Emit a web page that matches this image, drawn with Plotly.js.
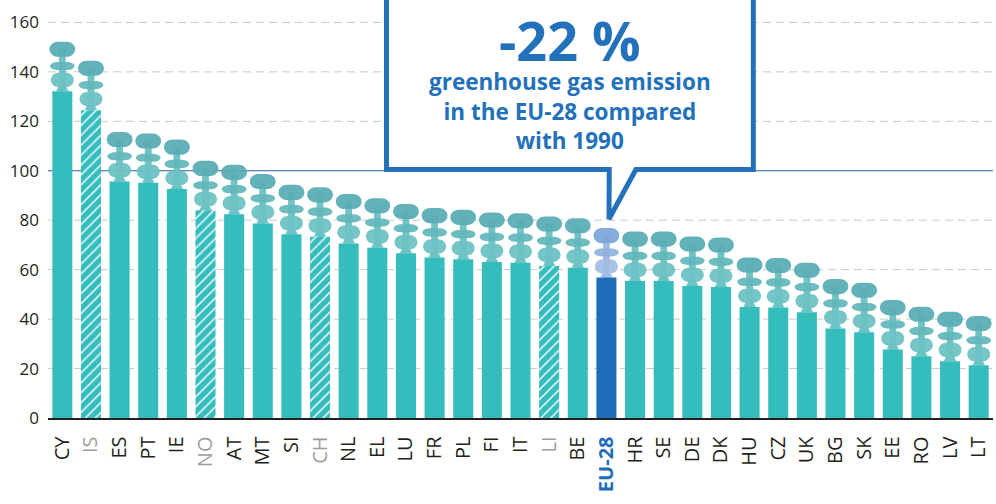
<!DOCTYPE html>
<html>
<head>
<meta charset="utf-8">
<script src="https://cdn.plot.ly/plotly-3.0.1.min.js"></script>
<style>html,body{margin:0;padding:0;background:#fff;}#chart{width:996px;height:504px;}</style>
</head>
<body>
<div id="chart"></div>
<script>
// Greenhouse gas emissions index (1990 = 100), value = top of the smoke
const categories = ['CY','IS','ES','PT','IE','NO','AT','MT','SI','CH','NL','EL','LU','FR','PL','FI','IT','LI','BE','EU-28','HR','SE','DE','DK','HU','CZ','UK','BG','SK','EE','RO','LV','LT'];
const values = [152.2,144.5,115.7,115.1,112.6,104.0,102.4,98.7,94.3,93.3,90.6,88.9,86.6,84.9,84.2,83.1,82.8,81.5,80.8,76.8,75.4,75.4,73.4,73.0,64.9,64.7,62.8,56.2,54.7,47.7,45.0,43.0,41.3];
const nonEU = ['IS','NO','CH','LI'];
const aggregate = 'EU-28';
const yTicks = [0,20,40,60,80,100,120,140,160];
const calloutBig = '-22 %';
const calloutLines = ['greenhouse gas emission','in the EU-28 compared','with 1990'];

const TEAL = '#35bdbd', BLUE = '#1f6db8';
const SMOKE = 20; // height of the smoke plume in index units (drawing style)
const idx = categories.map((c,i)=>i);
const barTops = values.map(v => v - SMOKE);

const ticktext = categories.map(c => {
  if (c === aggregate) return '<b><span style="color:' + BLUE + '">' + c + '</span></b>';
  if (nonEU.includes(c)) return '<span style="color:#9d9d9d">' + c + '</span>';
  return c;
});

const solidIdx = idx.filter(i => !nonEU.includes(categories[i]));
const hatchIdx = idx.filter(i => nonEU.includes(categories[i]));

const solidBars = {
  type: 'bar', x: solidIdx, y: solidIdx.map(i => barTops[i]), width: 0.7,
  marker: {color: solidIdx.map(i => categories[i] === aggregate ? BLUE : TEAL), line: {width: 0}},
  hoverinfo: 'skip'
};
const hatchBars = {
  type: 'bar', x: hatchIdx, y: hatchIdx.map(i => barTops[i]), width: 0.7,
  marker: {
    color: TEAL, line: {width: 0},
    pattern: {shape: '/', fillmode: 'replace', bgcolor: TEAL, fgcolor: '#ffffff', fgopacity: 1, size: 7, solidity: 0.2}
  },
  hoverinfo: 'skip'
};

function f(n){ return n.toFixed(4); }
function pill(cx, w, y0, y1) {
  const x0 = cx - w/2, x1 = cx + w/2;
  const rx = w*0.33, ry = (y1-y0)/2, k = 0.5523;
  return 'M' + f(x0+rx) + ',' + f(y0) +
    ' L' + f(x1-rx) + ',' + f(y0) +
    ' C' + f(x1-rx+k*rx) + ',' + f(y0) + ' ' + f(x1) + ',' + f(y0+ry-k*ry) + ' ' + f(x1) + ',' + f(y0+ry) +
    ' C' + f(x1) + ',' + f(y0+ry+k*ry) + ' ' + f(x1-rx+k*rx) + ',' + f(y1) + ' ' + f(x1-rx) + ',' + f(y1) +
    ' L' + f(x0+rx) + ',' + f(y1) +
    ' C' + f(x0+rx-k*rx) + ',' + f(y1) + ' ' + f(x0) + ',' + f(y1-ry+k*ry) + ' ' + f(x0) + ',' + f(y1-ry) +
    ' C' + f(x0) + ',' + f(y1-ry-k*ry) + ' ' + f(x0+rx-k*rx) + ',' + f(y0) + ' ' + f(x0+rx) + ',' + f(y0) + ' Z';
}

const shapes = [];
// dashed grid lines (all except the 100 reference, which is solid blue)
yTicks.filter(t => t > 0 && t !== 100).forEach(t => {
  shapes.push({type:'line', xref:'paper', x0:0, x1:1, yref:'y', y0:t, y1:t, layer:'below',
    line:{color:'#c9c9c9', width:1, dash:'8px,5px'}});
});
shapes.push({type:'line', xref:'paper', x0:0, x1:1, yref:'y', y0:100, y1:100, layer:'below',
  line:{color:'#2a5ea8', width:1}});

categories.forEach((c,i) => {
  const v = values[i], b = barTops[i];
  const eu = c === aggregate;
  const col = eu ? {top:'#7ba7d9', mid:'#8fb1de', bot:'#a2bde4', neck:'#9ab7e1'}
                 : {top:'#58acb4', mid:'#62b7bb', bot:'#6cc2c4', neck:'#68bdc0'};
  const base = {type:'path', xref:'x', yref:'y', layer:'below', line:{width:0}, opacity:0.93};
  shapes.push(Object.assign({}, base, {fillcolor: col.neck,
    path: 'M' + f(i-0.12) + ',' + f(b) + ' L' + f(i+0.12) + ',' + f(b) + ' L' + f(i+0.12) + ',' + f(v-3) + ' L' + f(i-0.12) + ',' + f(v-3) + ' Z'}));
  shapes.push(Object.assign({}, base, {fillcolor: col.bot,
    path: 'M' + f(i-0.22) + ',' + f(b) + ' L' + f(i+0.22) + ',' + f(b) + ' L' + f(i+0.12) + ',' + f(b+2.2) + ' L' + f(i-0.12) + ',' + f(b+2.2) + ' Z'}));
  shapes.push(Object.assign({}, base, {fillcolor: col.bot, path: pill(i, 0.8, v-18.4, v-12.6)}));
  shapes.push(Object.assign({}, base, {fillcolor: col.mid, path: pill(i, 0.86, v-11.5, v-8.2)}));
  shapes.push(Object.assign({}, base, {fillcolor: col.top, path: pill(i, 0.9, v-6.1, v)}));
});

// callout bubble pointing at the aggregate
const ei = categories.indexOf(aggregate);
const ev = values[ei];
const bx0 = ei - 7.68, bx1 = ei + 5.13, by = ev + 23.7, tipY = ev + 3.7;
shapes.push({type:'path', xref:'x', yref:'y', layer:'above', fillcolor:'#ffffff', line:{color:'#2271ba', width:5},
  path: 'M' + f(bx0) + ',190 L' + f(bx0) + ',' + f(by) + ' L' + f(ei+0.1) + ',' + f(by) + ' L' + f(ei+0.09) + ',' + f(tipY) +
        ' L' + f(ei+1.03) + ',' + f(by) + ' L' + f(bx1) + ',' + f(by) + ' L' + f(bx1) + ',190 Z'});

const calloutText = '<span style="font-size:54px"><b>' + calloutBig + '</b></span><br>' +
  calloutLines.map(t => '<b>' + t + '</b>').join('<br>');
const annotations = [
  {xref:'paper', yref:'paper', x: 0.5524, y: 0.811, xanchor:'center', yanchor:'middle', showarrow:false, borderpad:0,
   align:'center', text: calloutText,
   font: {size: 22.5, color: '#2271ba', family: 'Open Sans, sans-serif'}}
];

const layout = {
  width: 996, height: 504,
  margin: {l: 48, r: 3, t: 0, b: 86, pad: 0},
  paper_bgcolor: '#ffffff', plot_bgcolor: '#ffffff',
  showlegend: false, barmode: 'overlay',
  font: {family: 'Open Sans, sans-serif', color: '#231f20'},
  xaxis: {
    type: 'linear', range: [-0.5, categories.length - 0.5],
    tickmode: 'array', tickvals: idx, ticktext: ticktext, tickangle: -90,
    tickfont: {size: 20, color: '#231f20'}, ticks: '', ticklabelstandoff: 9,
    showgrid: false, zeroline: false, showline: true, linecolor: '#231f20', linewidth: 1.5
  },
  yaxis: {
    range: [0, 169.06], tickmode: 'array', tickvals: yTicks, ticktext: yTicks.map(String),
    tickfont: {size: 17, color: '#231f20'}, ticks: '', ticklabelstandoff: 8,
    showgrid: false, zeroline: false, showline: false
  },
  shapes: shapes,
  annotations: annotations
};

Plotly.newPlot('chart', [solidBars, hatchBars], layout, {staticPlot: true, displayModeBar: false});
</script>
</body>
</html>
